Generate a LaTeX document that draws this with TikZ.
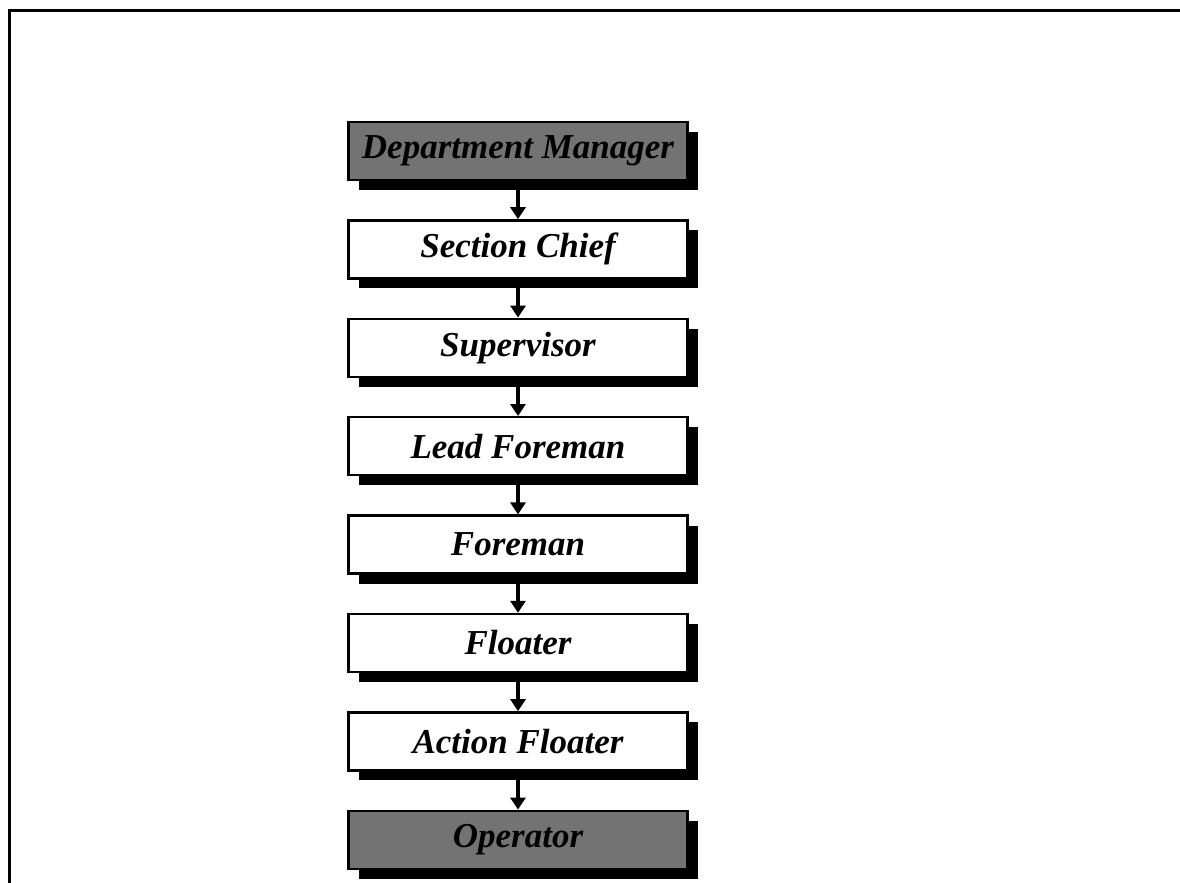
\documentclass[tikz,border=0pt]{standalone}
\usepackage{fontspec}
\setmainfont{Liberation Serif}
\usetikzlibrary{positioning,shadows,arrows.meta}

\begin{document}
\begin{tikzpicture}[x=0.5pt, y=-0.5pt, line join=miter, >={Triangle[length=6pt,width=7.5pt]},
	role/.style={draw, line width=1.2pt, fill=white, minimum width=169.5pt, minimum height=29pt, inner sep=0pt,
		font=\fontsize{17.5}{17.5}\selectfont\bfseries\itshape,
		drop shadow={shadow xshift=5pt, shadow yshift=-5pt, fill=black, opacity=1}},
	rolegray/.style={role, fill=black!55},
	link/.style={->, line width=1.6pt},
	node distance=19pt]
	\useasboundingbox (0,0) rectangle (1180,883);
	% frame
	\draw[line width=1.5pt] (9,883) -- (9,11) -- (1180,11);
	% chain of roles
	\node[rolegray] (manager) at (518,151) {Department Manager};
	\node[role, below=of manager] (chief) {Section Chief};
	\node[role, below=of chief] (supervisor) {Supervisor};
	\node[role, below=of supervisor] (lead) {Lead Foreman};
	\node[role, below=of lead] (foreman) {Foreman};
	\node[role, below=of foreman] (floater) {Floater};
	\node[role, below=of floater] (action) {Action Floater};
	\node[rolegray, below=of action] (operator) {Operator};
	\foreach \a/\b in {manager/chief, chief/supervisor, supervisor/lead, lead/foreman,
		foreman/floater, floater/action, action/operator}
		\draw[link] (\a.south) -- (\b.north);
\end{tikzpicture}
\end{document}
